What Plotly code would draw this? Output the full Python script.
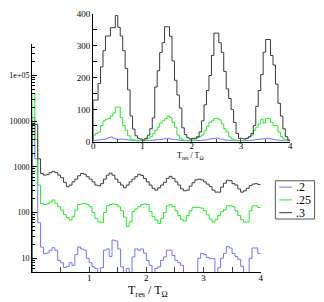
import plotly.graph_objects as go

# ---------------- data (histograms, bin width 0.05 on T_res/T_Omega in [0,4]) -------------
BIN_WIDTH = 0.05
N_BINS = 80
series_names = [".2", ".25", ".3"]

# main panel (log scale counts)
main_02 = [12000, 1500, 60, 17.6, 12.6, 13, 15, 17, 15, 9,
           8, 6.3, 6.6, 8, 7, 12, 17.6, 16, 15, 10,
           8, 6.5, 6, 1, 6.2, 15, 16, 11, 25, 24,
           16, 6.5, 1, 6, 1, 10.7, 16, 15, 16, 13,
           9, 7, 1, 6, 6.5, 9, 10.7, 15, 15, 11.5,
           9, 8, 7, 1, 1, 1, 1, 1, 10, 12.8,
           12, 10.4, 9.8, 9.8, 1, 6.2, 10, 12.8, 18, 16.8,
           12.8, 11, 9.5, 6.7, 1, 1, 10, 16.8, 16.8, 12.8]
main_025 = [40000, 4000, 400, 159, 150, 155, 170, 189, 160, 134,
            113, 90, 78, 69, 81, 113, 150, 155, 159, 150,
            134, 100, 75, 63, 60, 100, 141, 150, 155, 150,
            134, 110, 80, 50, 63, 105, 120, 134, 150, 155,
            150, 105, 81, 69, 58, 75, 100, 140, 150, 135,
            110, 86, 70, 65, 86, 110, 129, 130, 129, 125,
            110, 90, 72, 62, 70, 86, 105, 115, 141, 141,
            135, 110, 86, 70, 62, 62, 110, 141, 141, 129]
main_03 = [8500, 8500, 1500, 716, 660, 680, 750, 800, 750, 660,
           580, 460, 367, 400, 470, 540, 640, 716, 690, 610,
           540, 470, 400, 385, 430, 540, 660, 730, 660, 540,
           460, 400, 350, 400, 470, 540, 610, 690, 650, 560,
           470, 400, 340, 310, 350, 400, 460, 560, 620, 560,
           470, 400, 330, 300, 310, 380, 450, 520, 540, 520,
           470, 420, 370, 310, 280, 280, 360, 440, 510, 500,
           430, 400, 330, 280, 300, 340, 390, 420, 430, 410]

# inset panel (linear counts)
inset_02 = [3, 4, 5, 6, 7, 9, 12, 14, 10, 8, 7, 8, 7, 6, 5, 4, 3, 3, 2, 2,
            2, 2, 3, 3, 4, 5, 6, 7, 8, 9, 10, 8, 7, 6, 5, 4, 3, 2, 2, 2,
            2, 2, 3, 3, 4, 5, 6, 8, 9, 10, 11, 8, 7, 5, 4, 3, 3, 2, 2, 2,
            2, 2, 3, 3, 4, 5, 6, 7, 8, 9, 10, 9, 8, 6, 5, 4, 3, 2, 2, 2]
inset_025 = [20, 25, 30, 50, 65, 70, 72, 80, 90, 108, 108, 75, 50, 35, 18, 8, 5, 3, 2, 3,
             3, 5, 10, 15, 25, 35, 45, 58, 65, 72, 80, 75, 60, 45, 20, 10, 5, 3, 3, 5,
             5, 8, 12, 15, 20, 35, 48, 60, 65, 72, 73, 68, 55, 40, 30, 15, 8, 5, 3, 3,
             3, 5, 10, 15, 20, 35, 45, 55, 70, 58, 72, 73, 60, 50, 50, 30, 15, 8, 5, 3]
inset_03 = [130, 130, 182, 234, 285, 331, 331, 357, 357, 395, 358, 331, 285, 229, 162, 80, 39, 18, 10, 8,
            5, 10, 20, 40, 74, 171, 222, 279, 310, 360, 360, 330, 253, 192, 146, 105, 43, 22, 12, 8,
            10, 10, 15, 30, 65, 115, 160, 207, 270, 340, 340, 310, 280, 220, 165, 135, 100, 60, 25, 10,
            10, 8, 10, 15, 25, 50, 110, 160, 210, 280, 320, 320, 270, 240, 180, 120, 80, 40, 15, 5]

colors = ["#7373ff", "#22ee22", "#3a3a3a"]

edges = [round(i * BIN_WIDTH, 4) for i in range(N_BINS + 1)]


def step_xy(vals, floor):
    x = [0.0] + edges[:-1] + [edges[-1]]
    y = [floor] + list(vals) + [vals[-1]]
    return x, y


fig = go.Figure()
for name, vals, col in zip(series_names, [main_02, main_025, main_03], colors):
    x, y = step_xy(vals, 1)
    fig.add_trace(go.Scatter(x=x, y=y, mode="lines", line=dict(color=col, width=1, shape="hv"),
                             name=name, showlegend=False, xaxis="x", yaxis="y"))
for name, vals, col in zip(series_names, [inset_02, inset_025, inset_03], colors):
    x, y = step_xy(vals, 0)
    fig.add_trace(go.Scatter(x=x, y=y, mode="lines", line=dict(color=col, width=1, shape="hv"),
                             name=name, showlegend=False, xaxis="x2", yaxis="y2"))

# ---------------- layout ----------------
L, R, T, B = 27, 30, 9, 30
W, H = 324, 302
PW, PH = W - L - R, H - T - B


def px(xp):
    return (xp - L) / PW


def py(yp):
    return (H - B - yp) / PH


serif = "Liberation Serif, Times New Roman, serif"
tickfont = dict(family=serif, size=9, color="black")

log_minor = [m * 10 ** e for e in range(0, 6) for m in range(2, 10)]

fig.update_layout(
    width=W, height=H,
    margin=dict(l=L, r=R, t=T, b=B),
    paper_bgcolor="white", plot_bgcolor="white",
    showlegend=False,
    xaxis=dict(domain=[0, px(260)], range=[0, 4], anchor="y",
               showline=True, linecolor="black", linewidth=1, showgrid=False, zeroline=False,
               tickmode="array", tickvals=[1, 2, 3, 4], ticktext=["1", "2", "3", "4"],
               ticks="inside", ticklen=5, tickcolor="#444", tickfont=tickfont, ticklabelstandoff=-3,
               minor=dict(tickmode="array", tickvals=[0.5, 1.5, 2.5, 3.5], ticks="inside",
                          ticklen=5, tickcolor="#444")),
    yaxis=dict(domain=[0, py(40)], type="log", range=[0.70, 5.68], anchor="x",
               showline=True, linecolor="black", linewidth=1, showgrid=False, zeroline=False,
               tickmode="array", tickvals=[10, 100, 1000, 10000, 100000],
               ticktext=["10", "100", "1000", "10000", "1e+05"],
               ticks="inside", ticklen=5, tickcolor="black",
               tickfont=dict(family=serif, size=8, color="black"),
               minor=dict(tickmode="array", tickvals=log_minor, ticks="inside", ticklen=3, tickcolor="black")),
    xaxis2=dict(domain=[px(89.3), px(290.2)], range=[0, 4], anchor="y2",
                showline=True, linecolor="black", linewidth=1, showgrid=False, zeroline=False,
                tickmode="array", tickvals=[0, 1, 2, 3, 4],
                ticks="inside", ticklen=3, tickcolor="#444", tickfont=tickfont, ticklabelstandoff=-4,
                minor=dict(tickmode="array", tickvals=[0.5, 1.5, 2.5, 3.5], ticks="inside",
                           ticklen=3, tickcolor="#444")),
    yaxis2=dict(domain=[py(139), 1], range=[0, 400], anchor="x2",
                showline=True, linecolor="black", linewidth=1, showgrid=False, zeroline=False,
                tickmode="array", tickvals=[0, 100, 200, 300, 400],
                ticks="inside", ticklen=4, tickcolor="black", tickfont=tickfont,
                minor=dict(tickmode="array", tickvals=[50, 150, 250, 350], ticks="inside",
                           ticklen=4, tickcolor="black")),
)

# axis titles
fig.add_annotation(text="T<sub>res</sub> / T<sub>Ω</sub>", xref="paper", yref="paper",
                   x=px(145), y=py(291), showarrow=False, xanchor="center", yanchor="middle",
                   font=dict(family=serif, size=12, color="black"))
fig.add_annotation(text="T<sub>res</sub> / T<sub>Ω</sub>", xref="paper", yref="paper",
                   x=px(189), y=py(154), showarrow=False, xanchor="center", yanchor="middle",
                   font=dict(family=serif, size=8, color="black"))

# legend box drawn by hand (compact, as in the original)
fig.add_shape(type="rect", xref="paper", yref="paper",
              x0=px(275), x1=px(315), y0=py(218), y1=py(179),
              line=dict(color="#555", width=1), fillcolor="white", layer="above")
for i, (name, col) in enumerate(zip(series_names, colors)):
    yy = 185.5 + 13 * i
    fig.add_shape(type="line", xref="paper", yref="paper",
                  x0=px(279), x1=px(292), y0=py(yy), y1=py(yy),
                  line=dict(color=col, width=1))
    fig.add_annotation(text=name, xref="paper", yref="paper", x=px(294), y=py(yy),
                       showarrow=False, xanchor="left", yanchor="middle",
                       font=dict(family=serif, size=12, color="black"))

fig.write_html("out.html", config={"displayModeBar": False},
               post_script="document.body.style.margin='0';")
